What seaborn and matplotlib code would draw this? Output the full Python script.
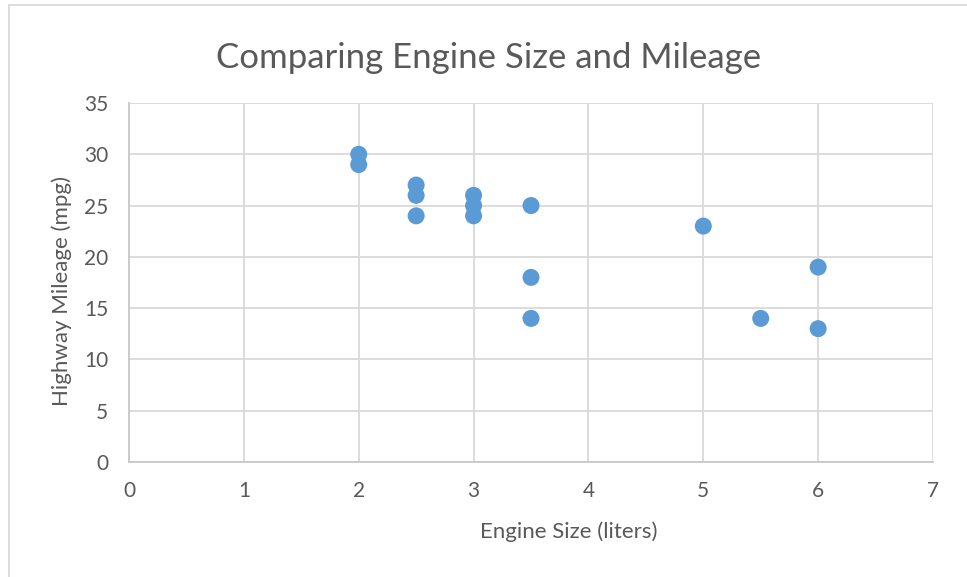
import matplotlib
matplotlib.use("Agg")
import matplotlib.pyplot as plt
import seaborn as sns
import pandas as pd
from matplotlib.patches import Rectangle

engine_size = [2, 2, 2.5, 2.5, 2.5, 3, 3, 3, 3.5, 3.5, 3.5, 5, 5.5, 6, 6]
highway_mpg = [30, 29, 27, 26, 24, 26, 25, 24, 25, 18, 14, 23, 14, 19, 13]
x_ticks = [0, 1, 2, 3, 4, 5, 6, 7]
y_ticks = [0, 5, 10, 15, 20, 25, 30, 35]

df = pd.DataFrame({"Engine Size (liters)": engine_size,
                   "Highway Mileage (mpg)": highway_mpg})

sns.set_theme(style="white")
plt.rcParams["font.family"] = ["Lato", "DejaVu Sans"]

text_color = "#595959"
grid_color = "#D9D9D9"

fig = plt.figure(figsize=(9.67, 5.77), dpi=100)
ax = fig.add_axes([129 / 967, 1 - 462 / 577, (933 - 129) / 967, (462 - 103) / 577])

sns.scatterplot(data=df, x="Engine Size (liters)", y="Highway Mileage (mpg)",
                ax=ax, color="#5B9BD5", s=150, edgecolor="none", zorder=3)

ax.set_xlim(0, 7)
ax.set_ylim(0, 35)
ax.set_xticks(x_ticks)
ax.set_yticks(y_ticks)
ax.grid(True, color=grid_color, linewidth=1.3)
ax.set_axisbelow(True)
for side in ["top", "right"]:
    ax.spines[side].set_visible(False)
for side in ["left", "bottom"]:
    ax.spines[side].set_color("#C8C8C8")
    ax.spines[side].set_linewidth(1.3)
ax.tick_params(axis="both", length=0, labelsize=15, colors=text_color)
ax.tick_params(axis="x", pad=14)
ax.tick_params(axis="y", pad=15)

ax.set_xlabel("Engine Size (liters)", fontsize=16, color=text_color, va="center")
ax.set_ylabel("Highway Mileage (mpg)", fontsize=16, color=text_color, va="center")
ax.xaxis.set_label_coords(0.5467, -0.195)
ax.yaxis.set_label_coords(-0.0833, 0.476)
fig.text(489 / 967, 1 - 58 / 577, "Comparing Engine Size and Mileage",
         ha="center", va="center", fontsize=25, color=text_color)

# Chart area frame
fig.patches.append(Rectangle((9 / 967, -0.05), 1.2, 1 - 5 / 577 + 0.05,
                             transform=fig.transFigure, fill=False,
                             edgecolor="#D9D9D9", linewidth=1.3))

fig.savefig("out.png", dpi=100)
